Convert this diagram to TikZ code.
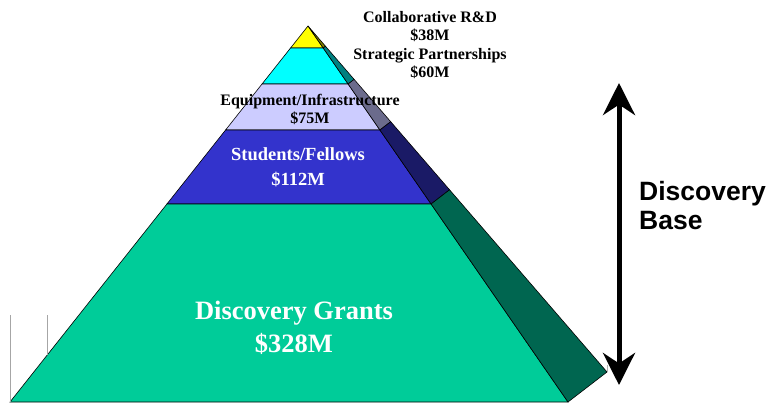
\documentclass[tikz,border=0pt]{standalone}
\usepackage{fontspec}
\setmainfont{Liberation Serif}
\newfontfamily\arialfont{Liberation Sans}
\usetikzlibrary{arrows.meta,calc}

\definecolor{capyellow}{HTML}{FFFF00}
\definecolor{capyellowside}{HTML}{7F7F00}
\definecolor{partcyan}{HTML}{00FFFF}
\definecolor{partcyanside}{HTML}{008080}
\definecolor{equiplav}{HTML}{CCCCFF}
\definecolor{equiplavside}{HTML}{6B6B8C}
\definecolor{studblue}{HTML}{3333CC}
\definecolor{studblueside}{HTML}{1A1A66}
\definecolor{grantgreen}{HTML}{00CC99}
\definecolor{grantgreenside}{HTML}{006650}

\tikzset{
  band/.style={draw=black, line width=0.6pt},
  lbl/.style={font=\bfseries, align=center, inner sep=0pt},
}

\begin{document}
\begin{tikzpicture}[x=1pt,y=-1pt]
\useasboundingbox (0,0) rectangle (770,402);

% corners of the pyramid
\coordinate (apex) at (308,26);
\coordinate (fl) at (10,402);
\coordinate (fr) at (568,402);
\coordinate (sr) at (607,372);
\foreach \t/\n in {0.0585/a,0.1543/b,0.2766/c,0.4734/d}{
  \coordinate (l\n) at ($(apex)!\t!(fl)$);
  \coordinate (r\n) at ($(apex)!\t!(fr)$);
  \coordinate (s\n) at ($(apex)!\t!(sr)$);
}

% front face
\filldraw[band, fill=capyellow] (apex) -- (ra) -- (la) -- cycle;
\filldraw[band, fill=partcyan] (la) -- (ra) -- (rb) -- (lb) -- cycle;
\filldraw[band, fill=equiplav] (lb) -- (rb) -- (rc) -- (lc) -- cycle;
\filldraw[band, fill=studblue] (lc) -- (rc) -- (rd) -- (ld) -- cycle;
\filldraw[band, fill=grantgreen] (ld) -- (rd) -- (fr) -- (fl) -- cycle;

% side face
\filldraw[band, fill=capyellowside] (apex) -- (sa) -- (ra) -- cycle;
\filldraw[band, fill=partcyanside] (ra) -- (sa) -- (sb) -- (rb) -- cycle;
\filldraw[band, fill=equiplavside] (rb) -- (sb) -- (sc) -- (rc) -- cycle;
\filldraw[band, fill=studblueside] (rc) -- (sc) -- (sd) -- (rd) -- cycle;
\filldraw[band, fill=grantgreenside] (rd) -- (sd) -- (sr) -- (fr) -- cycle;
\draw[gray!60, line width=0.6pt] (sr) -- ++(0,-7);

% stray guide lines at the left
\draw[gray!70, line width=0.8pt] (10,315) -- (10,402);
\draw[gray!70, line width=0.8pt] (47,315) -- (47,355);

% labels
\node[lbl, text=white, font=\bfseries\fontsize{26.5}{33}\selectfont] (grants) at (294,328)
  {Discovery Grants\\\$328M};
\node[lbl, text=white, font=\bfseries\fontsize{18.5}{25}\selectfont] (students) at (298,167)
  {Students/Fellows\\\$112M};
\node[lbl, font=\bfseries\fontsize{16}{18}\selectfont] (equip) at (310,109)
  {Equipment/Infrastructure\\\$75M};
\node[lbl, font=\bfseries\fontsize{16}{18.3}\selectfont] (collab) at (430,45)
  {Collaborative R\&D\\\$38M\\Strategic Partnerships\\\$60M};

% discovery base arrow
\coordinate (basetop) at (619,83);
\coordinate (basebot) at (619,385);
\draw[line width=5pt, {Stealth[length=32pt,width=32pt]}-{Stealth[length=32pt,width=32pt]}]
  (basetop) -- (basebot);
\node[anchor=west, align=left, inner sep=0pt, font=\arialfont\bfseries\fontsize{26.5}{29}\selectfont] (base) at (639,206)
  {Discovery\\Base};

\end{tikzpicture}
\end{document}
